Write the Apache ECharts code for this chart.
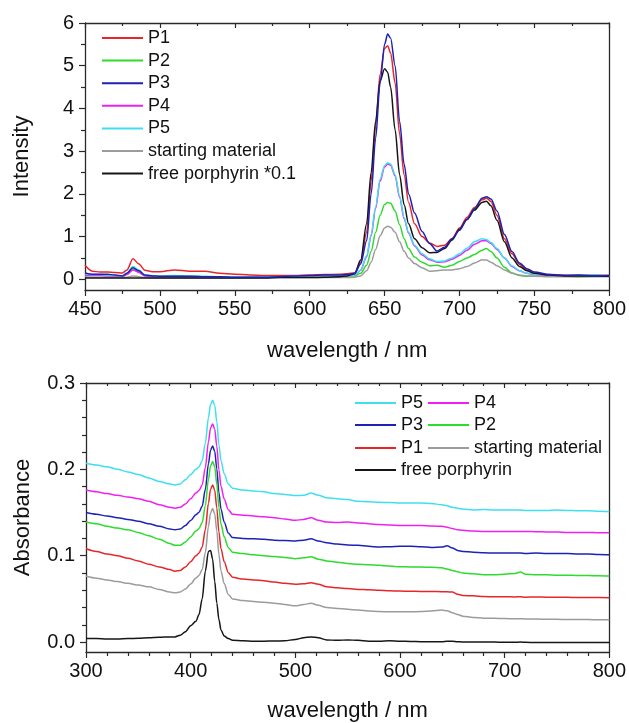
<!DOCTYPE html>
<html>
<head>
<meta charset="utf-8">
<script src="https://cdn.jsdelivr.net/npm/echarts@6/dist/echarts.min.js"></script>
<style>html,body{margin:0;padding:0;background:#fff;}#c{width:629px;height:723px;}</style>
</head>
<body>
<div id="c"></div>
<script>
// ---------- Emission (top) ----------
const emWavelengths = [450,455,460,465,470,475,478,482,486,490,495,500,510,520,530,540,550,560,570,580,590,600,610,620,625,630,634,638,641,644,647,650,652,654,657,660,663,666,670,675,680,685,690,695,700,705,710,715,718,721,725,730,735,740,745,750,760,770,780,790,800];
const emP1 = [.33,.19,.17,.17,.16,.15,.22,.48,.36,.21,.18,.18,.22,.19,.19,.14,.12,.10,.09,.09,.09,.10,.11,.12,.13,.15,.40,1.1,2.3,3.6,4.8,5.4,5.47,5.3,4.6,3.4,2.45,1.8,1.3,1.0,.85,.77,.8,.95,1.2,1.45,1.68,1.86,1.9,1.82,1.5,.95,.6,.35,.22,.15,.11,.1,.09,.1,.09];
const emP2 = [.12,.1,.1,.09,.08,.07,.12,.24,.17,.08,.06,.05,.05,.05,.05,.05,.05,.05,.05,.06,.06,.07,.07,.08,.08,.08,.14,.33,.65,1.1,1.5,1.75,1.8,1.78,1.6,1.28,.95,.72,.52,.4,.32,.33,.28,.33,.42,.5,.58,.68,.72,.65,.5,.28,.15,.09,.07,.07,.07,.07,.06,.07,.07];
const emP3 = [.15,.12,.12,.12,.10,.08,.14,.27,.2,.1,.08,.07,.07,.07,.06,.06,.05,.05,.05,.06,.08,.09,.1,.1,.11,.14,.36,.9,2.0,3.3,4.6,5.5,5.74,5.65,5.0,3.7,2.7,2.0,1.55,1.12,.84,.66,.75,.95,1.15,1.4,1.65,1.9,1.93,1.88,1.6,1.05,.65,.38,.25,.17,.11,.09,.1,.08,.09];
const emP4 = [.1,.09,.09,.08,.07,.07,.11,.22,.16,.08,.06,.05,.05,.05,.05,.04,.04,.05,.05,.06,.07,.08,.08,.09,.09,.1,.21,.53,1.02,1.66,2.3,2.63,2.7,2.67,2.42,1.92,1.42,1.08,.78,.57,.46,.4,.41,.47,.56,.68,.82,.9,.9,.84,.7,.5,.3,.2,.14,.11,.09,.08,.09,.08,.09];
const emP5 = [.13,.11,.11,.1,.09,.08,.14,.3,.22,.1,.09,.08,.09,.08,.07,.06,.05,.05,.05,.06,.07,.08,.08,.09,.09,.1,.22,.55,1.05,1.7,2.35,2.66,2.73,2.7,2.45,1.95,1.45,1.1,.8,.6,.48,.42,.43,.5,.6,.73,.88,.95,.93,.86,.72,.5,.32,.2,.14,.12,.1,.09,.09,.1,.08];
const emStart = [.06,.05,.05,.05,.04,.04,.05,.08,.06,.04,.03,.03,.03,.03,.03,.03,.03,.03,.03,.04,.04,.04,.04,.04,.04,.05,.08,.2,.4,.7,1.02,1.2,1.24,1.22,1.1,.88,.66,.5,.37,.27,.19,.2,.22,.22,.25,.3,.38,.46,.45,.4,.32,.22,.14,.1,.08,.07,.06,.06,.06,.06,.06];
const emFree = [.03,.03,.03,.03,.03,.03,.03,.03,.03,.03,.03,.03,.03,.03,.03,.03,.03,.03,.03,.04,.04,.04,.05,.06,.08,.13,.45,1.3,2.5,3.7,4.65,4.93,4.85,4.5,3.5,2.45,1.75,1.3,.95,.74,.62,.63,.72,.92,1.17,1.4,1.62,1.8,1.83,1.72,1.38,.88,.5,.3,.2,.14,.1,.08,.08,.08,.07];
const emYTicks = [0,1,2,3,4,5,6];
const emYMinor = [0.5,1.5,2.5,3.5,4.5,5.5];

// ---------- Absorbance (bottom) ----------
const abWavelengths = [300,310,320,330,340,350,360,370,380,385,390,395,400,405,408,411,414,417,419,421,423,425,427,429,432,436,440,450,460,470,480,490,500,508,515,522,530,540,550,560,570,580,590,600,610,620,630,640,645,650,655,660,670,680,690,700,710,715,720,730,740,750,760,770,780,790,800];
const abP5 = [.207,.205,.203,.2,.197,.194,.19,.186,.183,.182,.183,.188,.194,.2,.203,.21,.23,.26,.275,.28,.274,.255,.228,.21,.195,.183,.178,.176,.175,.174,.172,.171,.1696,.17,.1725,.17,.167,.166,.165,.163,.1625,.162,.1615,.161,.161,.161,.1605,.159,.158,.156,.155,.154,.153,.1535,.153,.153,.1528,.153,.1525,.1525,.1525,.153,.1525,.152,.152,.1515,.151];
const abP4 = [.176,.174,.172,.17,.168,.166,.163,.159,.156,.155,.156,.16,.166,.1726,.1755,.182,.202,.232,.248,.2526,.2463,.2265,.1993,.1804,.1658,.1532,.148,.147,.146,.145,.144,.1425,.141,.142,.144,.141,.139,.1385,.139,.138,.137,.136,.1355,.135,.135,.135,.1345,.134,.133,.1315,.13,.1295,.1285,.128,.128,.128,.128,.128,.128,.1278,.1275,.1275,.127,.127,.127,.1265,.1265];
const abP3 = [.15,.148,.146,.144,.142,.14,.137,.134,.131,.13,.131,.135,.1407,.1475,.1504,.1572,.1766,.2066,.2222,.227,.2206,.2005,.1729,.1539,.139,.1263,.121,.12,.1195,.119,.118,.1175,.117,.118,.1196,.117,.115,.1135,.1125,.112,.111,.11,.1105,.111,.111,.1105,.1095,.11,.1115,.109,.106,.105,.104,.1035,.103,.103,.1032,.103,.1025,.103,.1025,.1025,.1025,.102,.102,.1015,.101];
const abP2 = [.139,.137,.134,.132,.13,.127,.123,.119,.114,.112,.112,.116,.1218,.1286,.1316,.1384,.158,.1884,.2041,.209,.2027,.1828,.1555,.1366,.1219,.1093,.104,.1025,.101,.1,.099,.098,.0965,.0975,.0988,.096,.094,.0925,.091,.09,.0895,.089,.088,.0873,.087,.087,.0865,.086,.0845,.083,.0815,.08,.079,.078,.078,.0785,.0795,.081,.0785,.078,.078,.0775,.0775,.077,.077,.0768,.0765];
const abP1 = [.108,.105,.102,.1,.097,.094,.09,.087,.084,.082,.083,.087,.093,.1,.103,.11,.13,.161,.177,.182,.1756,.1553,.1274,.1082,.0932,.0804,.075,.073,.072,.071,.0695,.068,.0669,.0675,.0688,.067,.064,.0628,.062,.061,.0605,.06,.0595,.059,.0588,.0587,.0585,.0584,.0582,.058,.0555,.054,.0535,.0527,.0525,.0525,.0522,.0525,.052,.0522,.052,.0518,.0518,.0516,.0515,.0515,.0513];
const abStart = [.0765,.074,.072,.07,.068,.066,.064,.061,.058,.057,.058,.0614,.0673,.0741,.0771,.0839,.1035,.1339,.1496,.1546,.1483,.1285,.1013,.0824,.0678,.0552,.05,.048,.047,.046,.045,.0435,.042,.0435,.045,.0425,.04,.039,.038,.037,.036,.0355,.035,.035,.035,.0355,.036,.037,.0362,.034,.032,.03,.0285,.0277,.0275,.0272,.027,.027,.0268,.0266,.0265,.0263,.0262,.026,.026,.0258,.0258];
const abFree = [.004,.004,.0035,.0035,.004,.0045,.005,.0055,.006,.006,.008,.012,.019,.024,.032,.05,.082,.105,.106,.096,.07,.045,.026,.014,.007,.004,.002,.0015,.001,.001,.0012,.0015,.003,.005,.006,.005,.0025,.002,.0025,.002,.001,.001,.0015,.001,.0008,.0005,.0005,.0005,.001,.001,.0005,0,0,0,0,-.0003,-.0003,0,-.0003,-.0005,-.0005,-.0005,-.0005,-.0005,-.0005,-.0005,-.0005];
const abYTicks = [0,0.1,0.2,0.3];
const abYMinor = [0.02,0.04,0.06,0.08,0.12,0.14,0.16,0.18,0.22,0.24,0.26,0.28];

const colors = {P1:'#e8262a', P2:'#2ddc2d', P3:'#1e22b4', P4:'#f020f0', P5:'#3ee0f0', start:'#9c9c9c', free:'#161616'};
const FONT = 'Liberation Sans, Arial, sans-serif';
const axisCol = '#2a2a2a';

function pairs(wl, arr){ return wl.map((w,i)=>[w, arr[i]]); }
function ser(name, wl, arr, color, gi){
  return {name, type:'line', xAxisIndex: gi*2, yAxisIndex: gi*3, data: pairs(wl, arr),
    symbol:'none', smooth:0.3, smoothMonotone:'x', lineStyle:{color, width:1.5}, itemStyle:{color}, silent:true, animation:false};
}
function baseX(gi, min, max, interval, minorSplit, nameGap){
  return [{
    gridIndex: gi, type:'value', min, max, interval, position:'bottom',
    name:'wavelength / nm', nameLocation:'middle', nameGap,
    nameTextStyle:{fontFamily:FONT, fontSize:22, color:'#111'},
    axisLine:{show:true, onZero:false, lineStyle:{color:axisCol, width:1.3}},
    axisTick:{show:true, inside:false, length:6, lineStyle:{color:axisCol, width:1.2}},
    minorTick:{show:true, splitNumber:minorSplit, length:4, lineStyle:{color:axisCol, width:1.2}},
    axisLabel:{fontFamily:FONT, fontSize:20, color:'#111', margin:9},
    splitLine:{show:false}
  },{
    gridIndex: gi, type:'value', min, max, interval, position:'top',
    axisLine:{show:true, onZero:false, lineStyle:{color:axisCol, width:1.3}},
    axisTick:{show:true, inside:true, length:5, lineStyle:{color:axisCol, width:1.2}},
    minorTick:{show:true, splitNumber:minorSplit, length:3, lineStyle:{color:axisCol, width:1.2}},
    axisLabel:{show:false}, splitLine:{show:false}
  }];
}
function baseY(gi, min, max, ticks, minor, name, nameGap, fmt){
  return [{
    gridIndex: gi, type:'value', min, max, position:'left',
    name, nameLocation:'middle', nameGap,
    nameTextStyle:{fontFamily:FONT, fontSize:22, color:'#111'},
    axisLine:{show:true, onZero:false, lineStyle:{color:axisCol, width:1.3}},
    axisTick:{show:true, inside:false, length:6, customValues: ticks, lineStyle:{color:axisCol, width:1.2}},
    axisLabel:{fontFamily:FONT, fontSize:20, color:'#111', margin:11, customValues: ticks, formatter: fmt},
    splitLine:{show:false}
  },{
    gridIndex: gi, type:'value', min, max, position:'left',
    axisLine:{show:false},
    axisTick:{show:true, inside:false, length:4, customValues: minor, lineStyle:{color:axisCol, width:1.2}},
    axisLabel:{show:false}, splitLine:{show:false}
  },{
    gridIndex: gi, type:'value', min, max, position:'right',
    axisLine:{show:true, onZero:false, lineStyle:{color:axisCol, width:1.3}},
    axisTick:{show:false}, axisLabel:{show:false}, splitLine:{show:false}
  }];
}

const legendText = {fontFamily:FONT, fontSize:18, color:'#111'};
const legBase = {icon:'rect', itemWidth:41, itemHeight:2, padding:0, textStyle:legendText, selectedMode:false};
const chart = echarts.init(document.getElementById('c'), null, {renderer:'canvas'});
chart.setOption({
  animation:false,
  backgroundColor:'#fff',
  grid:[
    {left:85, top:23, width:526, height:267},
    {left:86, top:383, width:524, height:270}
  ],
  xAxis:[...baseX(0, 450, 800, 50, 2, 50), ...baseX(1, 300, 800, 100, 5, 48)],
  yAxis:[...baseY(0, -0.25, 6, emYTicks, emYMinor, 'Intensity', 52, v=>String(v)),
         ...baseY(1, -0.0115, 0.3, abYTicks, abYMinor, 'Absorbance', 52, v=>v.toFixed(1))],
  legend:[
    Object.assign({}, legBase, {orient:'vertical', left:102, top:29, itemGap:4.6,
     data:['P1','P2','P3','P4','P5','starting material','free porphyrin *0.1']}),
    Object.assign({}, legBase, {orient:'horizontal', left:355, top:394, itemGap:5, data:['P5','P4']}),
    Object.assign({}, legBase, {orient:'horizontal', left:355, top:416, itemGap:5, data:['P3','P2']}),
    Object.assign({}, legBase, {orient:'horizontal', left:355, top:439, itemGap:5, data:['P1','starting material']}),
    Object.assign({}, legBase, {orient:'horizontal', left:355, top:461, itemGap:5, data:['free porphyrin']})
  ],
  series:[
    ser('P1', emWavelengths, emP1, colors.P1, 0),
    ser('P2', emWavelengths, emP2, colors.P2, 0),
    ser('P4', emWavelengths, emP4, colors.P4, 0),
    ser('P5', emWavelengths, emP5, colors.P5, 0),
    ser('starting material', emWavelengths, emStart, colors.start, 0),
    ser('free porphyrin *0.1', emWavelengths, emFree, colors.free, 0),
    ser('P3', emWavelengths, emP3, colors.P3, 0),
    ser('P5', abWavelengths, abP5, colors.P5, 1),
    ser('P4', abWavelengths, abP4, colors.P4, 1),
    ser('P3', abWavelengths, abP3, colors.P3, 1),
    ser('P2', abWavelengths, abP2, colors.P2, 1),
    ser('P1', abWavelengths, abP1, colors.P1, 1),
    ser('starting material', abWavelengths, abStart, colors.start, 1),
    ser('free porphyrin', abWavelengths, abFree, colors.free, 1)
  ]
});
</script>
</body>
</html>
